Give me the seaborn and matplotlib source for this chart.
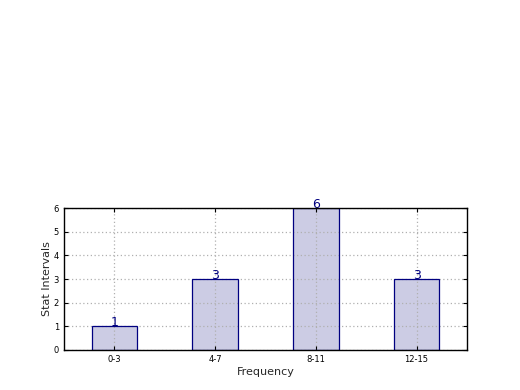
import matplotlib
matplotlib.use("Agg")
import matplotlib.pyplot as plt
import seaborn as sns
import pandas as pd

categories = ["0-3", "4-7", "8-11", "12-15"]
values = [1, 3, 6, 3]

sns.set_style("ticks")
plt.rcParams['font.family'] = ['DejaVu Sans']

fig = plt.figure(figsize=(5.2, 3.9), dpi=100)
ax = fig.add_axes([0.123, 0.1026, 0.775, 0.364])

df = pd.DataFrame({"cat": categories, "val": values})
# fill (below grid)
sns.barplot(data=df, x="cat", y="val", ax=ax, width=0.45,
            color="#ccccE4", linewidth=0, saturation=1, zorder=1)
# outline (above grid)
sns.barplot(data=df, x="cat", y="val", ax=ax, width=0.45, fill=False,
            edgecolor="#000080", linewidth=0.9, zorder=4)

for i, v in enumerate(values):
    ax.text(i, v, str(v), ha="center", va="baseline", color="#000080", fontsize=9, zorder=5)

ax.set_xlim(-0.5, 3.5)
ax.set_ylim(0, 6)
ax.set_yticks(range(0, 7))
ax.grid(True, linestyle=(0, (1, 2)), color="#b0b0b0", linewidth=0.9, zorder=2)
ax.set_axisbelow(False)
for sp in ax.spines.values():
    sp.set_visible(True)
    sp.set_color("black")
    sp.set_linewidth(1.0)
    sp.set_zorder(10)
ax.tick_params(direction="in", top=True, right=True, labelsize=6, length=3, width=0.8, colors="black")
ax.set_xlabel("Frequency", fontsize=8, labelpad=2)
ax.set_ylabel("Stat Intervals", fontsize=8, labelpad=1)

fig.savefig("out.png", dpi=100, facecolor="white")
